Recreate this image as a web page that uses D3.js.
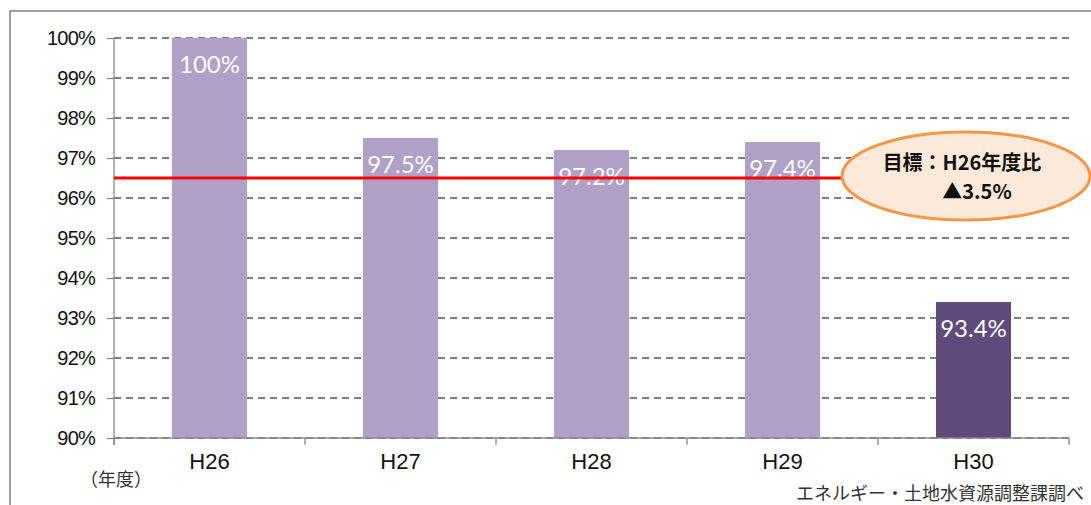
<!DOCTYPE html>
<html>
<head>
<meta charset="utf-8">
<script src="https://cdn.jsdelivr.net/npm/d3@7/dist/d3.min.js"></script>
<style>
  body { margin: 0; background: #fff; }
  svg { display: block; }
</style>
</head>
<body>
<svg id="chart" width="1091" height="505"></svg>
<script>
// データ
var years = ["H26", "H27", "H28", "H29", "H30"];
var ratios = [100, 97.5, 97.2, 97.4, 93.4];
var yTicks = [90, 91, 92, 93, 94, 95, 96, 97, 98, 99, 100];
var targetValue = 96.5;
var targetText = ["目標：H26年度比", "▲3.5%"];
var unitLabel = "（年度）";
var sourceLabel = "エネルギー・土地水資源調整課調べ";

var svg = d3.select("#chart");
// window.top と衝突するので別名にする
var plotL = 114, plotR = 1069, plotT = 38, plotB = 438;

// 外枠
svg.append("rect")
    .attr("x", 10).attr("y", 11)
    .attr("width", 1100).attr("height", 520)
    .attr("fill", "none")
    .attr("stroke", "#808080")
    .attr("stroke-width", 1.5);

var x = d3.scaleBand().domain(years).range([plotL, plotR]).paddingInner(0.607).paddingOuter(0.3035);
var y = d3.scaleLinear().domain([90, 100]).range([plotB, plotT]);

// 目盛線（破線）
svg.append("g")
    .selectAll("line")
    .data(yTicks)
    .enter().append("line")
    .attr("x1", plotL).attr("x2", plotR)
    .attr("y1", function (d) { return y(d); })
    .attr("y2", function (d) { return y(d); })
    .attr("stroke", "#808080")
    .attr("stroke-width", 1.8)
    .attr("stroke-dasharray", "7,5");

// 棒
svg.append("g")
    .selectAll("rect")
    .data(ratios)
    .enter().append("rect")
    .attr("x", function (d, i) { return x(years[i]); })
    .attr("y", function (d) { return y(d); })
    .attr("width", x.bandwidth())
    .attr("height", function (d) { return plotB - y(d); })
    .attr("fill", function (d, i) { return i == ratios.length - 1 ? "#604a7b" : "#b1a0c7"; });

// 値ラベル
svg.append("g")
    .selectAll("text")
    .data(ratios)
    .enter().append("text")
    .attr("x", function (d, i) { return x(years[i]) + x.bandwidth() / 2; })
    .attr("y", function (d) { return y(d) + 25; })
    .attr("text-anchor", "middle")
    .attr("dominant-baseline", "central")
    .attr("font-family", "Lato, 'Open Sans', sans-serif")
    .attr("font-size", 24)
    .attr("fill", "#fff")
    .text(function (d) { return (d == 100 ? "100" : d.toFixed(1)) + "%"; });

// Y軸
var yAxis = svg.append("g")
    .attr("transform", "translate(" + plotL + ",0)")
    .call(d3.axisLeft(y).tickValues(yTicks).tickSize(7).tickPadding(12)
        .tickFormat(function (d) { return d + "%"; }));
yAxis.select(".domain").remove();
yAxis.selectAll(".tick line").attr("stroke", "#888").attr("stroke-width", 1.3);
yAxis.selectAll("text")
    .attr("font-family", "'Liberation Sans', Arial, sans-serif")
    .attr("font-size", 20)
    .attr("letter-spacing", -0.8)
    .attr("fill", "#111");
svg.append("line")
    .attr("x1", plotL).attr("x2", plotL)
    .attr("y1", plotT).attr("y2", plotB + 7)
    .attr("stroke", "#888").attr("stroke-width", 1.3);

// X軸
svg.append("line")
    .attr("x1", plotL).attr("x2", plotR)
    .attr("y1", plotB).attr("y2", plotB)
    .attr("stroke", "#888").attr("stroke-width", 1.3);
var step = x.step();
svg.append("g")
    .selectAll("line")
    .data(d3.range(years.length + 1))
    .enter().append("line")
    .attr("x1", function (i) { return plotL + i * step; })
    .attr("x2", function (i) { return plotL + i * step; })
    .attr("y1", plotB).attr("y2", plotB + 7)
    .attr("stroke", "#888").attr("stroke-width", 1.3);
svg.append("g")
    .selectAll("text")
    .data(years)
    .enter().append("text")
    .attr("x", function (d) { return x(d) + x.bandwidth() / 2; })
    .attr("y", plotB + 23)
    .attr("text-anchor", "middle")
    .attr("dominant-baseline", "central")
    .attr("font-family", "'Liberation Sans', Arial, sans-serif")
    .attr("font-size", 22)
    .attr("fill", "#111")
    .text(function (d) { return d; });

// 目標線
var ex = 966, ey = 176, erx = 124, ery = 44;
svg.append("line")
    .attr("x1", plotL).attr("x2", ex - erx + 4)
    .attr("y1", y(targetValue)).attr("y2", y(targetValue))
    .attr("stroke", "#ff0000")
    .attr("stroke-width", 2.8);

svg.append("ellipse")
    .attr("cx", ex).attr("cy", ey)
    .attr("rx", erx).attr("ry", ery)
    .attr("fill", "#fde9d9")
    .attr("stroke", "#f79646")
    .attr("stroke-width", 3);

svg.append("text")
    .attr("x", ex - 4).attr("y", ey - 15)
    .attr("text-anchor", "middle")
    .attr("dominant-baseline", "central")
    .attr("font-family", "'Noto Sans CJK JP', sans-serif")
    .attr("font-weight", "bold")
    .attr("font-size", 20)
    .attr("fill", "#111")
    .text(targetText[0]);
svg.append("text")
    .attr("x", ex + 11).attr("y", ey + 14)
    .attr("text-anchor", "middle")
    .attr("dominant-baseline", "central")
    .attr("font-family", "'Noto Sans CJK JP', sans-serif")
    .attr("font-weight", "bold")
    .attr("font-size", 20)
    .attr("fill", "#111")
    .text(targetText[1]);

// 単位・出典
svg.append("text")
    .attr("x", 80).attr("y", 478)
    .attr("dominant-baseline", "central")
    .attr("font-family", "'Noto Sans CJK JP', sans-serif")
    .attr("font-size", 18)
    .attr("fill", "#333")
    .text(unitLabel);
svg.append("text")
    .attr("x", 1084).attr("y", 492)
    .attr("text-anchor", "end")
    .attr("dominant-baseline", "central")
    .attr("font-family", "'Noto Sans CJK JP', sans-serif")
    .attr("font-size", 18)
    .attr("fill", "#333")
    .text(sourceLabel);
</script>
</body>
</html>
